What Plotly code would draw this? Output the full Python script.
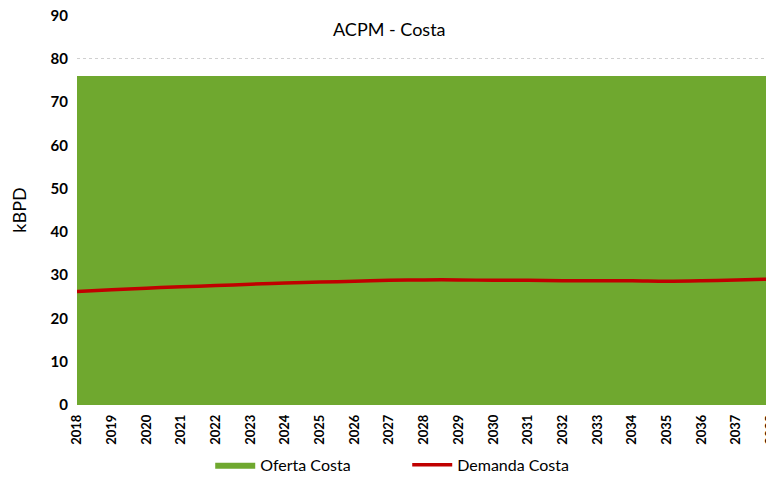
import plotly.graph_objects as go

years = list(range(2018, 2039))
oferta = [76.0] * len(years)
demanda = [26.2, 26.6, 27.0, 27.3, 27.6, 27.9, 28.2, 28.4, 28.6, 28.8, 28.9,
           28.9, 28.8, 28.8, 28.7, 28.7, 28.7, 28.6, 28.7, 28.9, 29.1]
tick_labels = [str(y) for y in years]

FONT = "Lato"
fig = go.Figure()
fig.add_trace(go.Scatter(x=years, y=oferta, name="Oferta Costa", mode="lines",
                         fill="tozeroy", fillcolor="#6FA82F",
                         line=dict(color="#6FA82F", width=0)))
fig.add_trace(go.Scatter(x=years, y=demanda, name="Demanda Costa", mode="lines",
                         line=dict(color="#C00000", width=3.5, shape="spline")))

fig.update_layout(
    width=766, height=470,
    margin=dict(l=69, r=3, t=7, b=73),
    plot_bgcolor="white", paper_bgcolor="white",
    font=dict(family=FONT, color="black"),
    showlegend=True,
    legend=dict(orientation="h", xref="container", yref="container",
                x=0.264, y=0.028, xanchor="left", yanchor="middle",
                font=dict(size=16, family=FONT), itemwidth=40, tracegroupgap=0,
                entrywidth=142),
    xaxis=dict(range=[2018, 2038.001], tickmode="array", tickvals=years, ticktext=tick_labels,
               tickangle=-90, tickfont=dict(size=13, family=FONT, weight="bold"),
               showgrid=False, zeroline=False, showline=False, ticks="",
               automargin=False, ticklabelstandoff=6, ticklabeloverflow="allow"),
    yaxis=dict(range=[0, 90.1], dtick=10, tickfont=dict(size=15, family=FONT, weight="bold"),
               showgrid=True, gridcolor="#D0D0D0", griddash="dot", gridwidth=1,
               zeroline=False, showline=False, ticks="", automargin=False,
               ticklabelstandoff=8, ticklabeloverflow="allow",
               title=dict(text="kBPD", font=dict(size=18, family=FONT), standoff=20)),
    annotations=[dict(text="ACPM - Costa", x=0.45, y=0.965, xref="paper", yref="paper",
                      showarrow=False, xanchor="center", yanchor="middle",
                      font=dict(size=18, family=FONT))],
)
fig.write_html("out.html")
